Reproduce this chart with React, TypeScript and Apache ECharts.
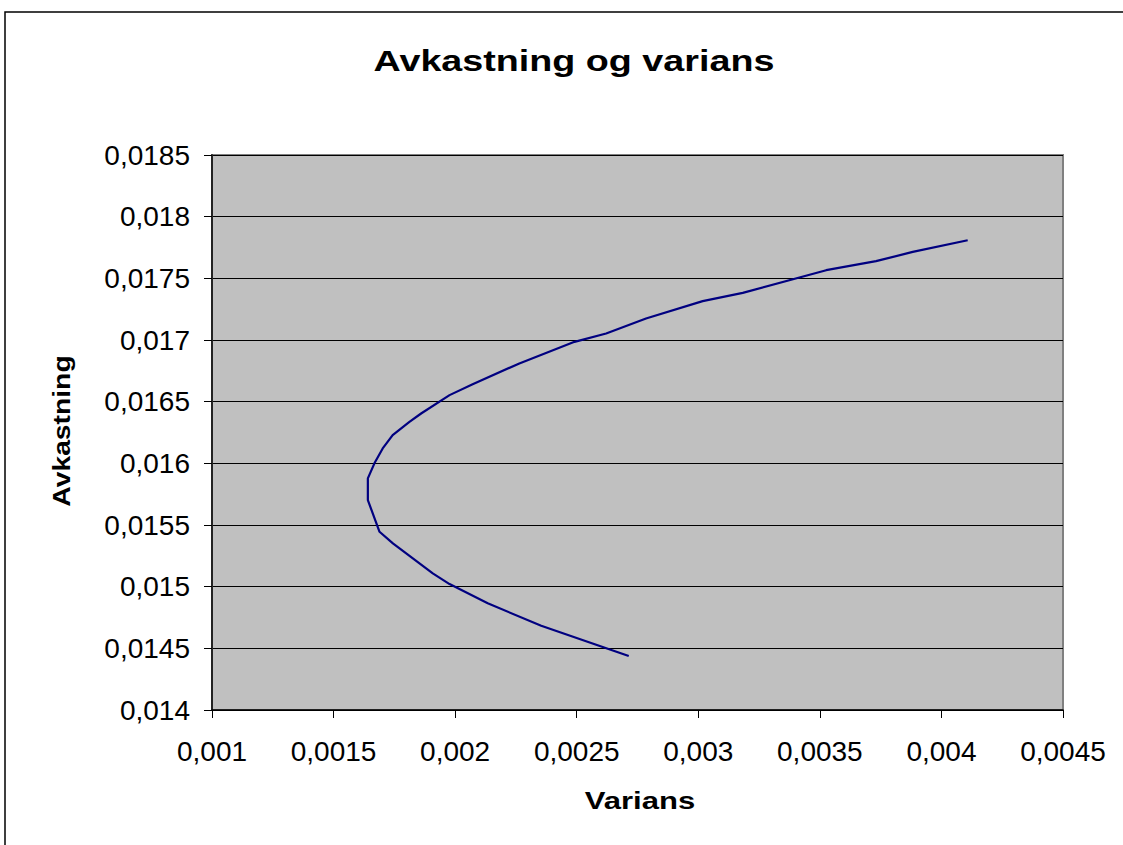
import React, { useEffect, useRef } from "react";
import * as echarts from "echarts";

const title = "Avkastning og varians";
const xName = "Varians";
const yName = "Avkastning";

const variance = [
  0.002714, 0.002354, 0.002134, 0.001977, 0.001908, 0.001744, 0.001689,
  0.001641, 0.001641, 0.001668, 0.001702, 0.001743, 0.001812, 0.00186,
  0.001977, 0.002072, 0.002264, 0.002491, 0.002621, 0.002785, 0.003018,
  0.003183, 0.003416, 0.003526, 0.003731, 0.003882, 0.004108,
];
const returns = [
  0.014438, 0.014683, 0.014865, 0.015021, 0.015108, 0.015351, 0.015445,
  0.015702, 0.015878, 0.016, 0.016121, 0.016229, 0.016336, 0.016404,
  0.016553, 0.016642, 0.01681, 0.016985, 0.017053, 0.017174, 0.017315,
  0.017382, 0.017507, 0.017566, 0.017639, 0.017714, 0.017809,
];

const xTicks = { min: 0.001, max: 0.0045, interval: 0.0005 };
const yTicks = { min: 0.014, max: 0.0185, interval: 0.0005 };

const fmt = (v: number) => String(+v.toFixed(6)).replace(".", ",");

export default function App() {
  const ref = useRef<HTMLDivElement>(null);
  useEffect(() => {
    if (!ref.current) return;
    const chart = echarts.init(ref.current, null, { renderer: "svg" });
    const font = "Liberation Sans, Arial, sans-serif";
    chart.setOption({
      animation: false,
      backgroundColor: "#ffffff",
      grid: {
        left: 212,
        right: 60,
        top: 155,
        bottom: 135,
        show: true,
        backgroundColor: "#C0C0C0",
        borderColor: "#808080",
        borderWidth: 2,
        containLabel: false,
      },
      xAxis: {
        type: "value",
        min: xTicks.min,
        max: xTicks.max,
        interval: xTicks.interval,
        axisLine: { show: true, lineStyle: { color: "#000", width: 1.5 } },
        axisTick: { show: true, inside: false, length: 8, lineStyle: { color: "#000", width: 1 } },
        axisLabel: {
          formatter: fmt,
          color: "#000",
          fontFamily: font,
          fontSize: 28,
          margin: 27,
        },
        splitLine: { show: false },
      },
      yAxis: {
        type: "value",
        min: yTicks.min,
        max: yTicks.max,
        interval: yTicks.interval,
        axisLine: { show: true, lineStyle: { color: "#222", width: 2 } },
        axisTick: { show: true, inside: false, length: 8, lineStyle: { color: "#000", width: 1 } },
        axisLabel: {
          formatter: fmt,
          color: "#000",
          fontFamily: font,
          fontSize: 28,
          margin: 22,
        },
        splitLine: { show: true, lineStyle: { color: "#000", width: 1 } },
      },
      graphic: [
        {
          type: "rect",
          shape: { x: 5, y: 12, width: 1200, height: 900 },
          style: { fill: "none", stroke: "#000", lineWidth: 1.5 },
          silent: true,
          z: 100,
        },
        {
          type: "text",
          x: 574,
          y: 61,
          scaleX: 1.3,
          style: {
            text: title,
            font: "bold 29px Liberation Sans, Arial, sans-serif",
            fill: "#000",
            textAlign: "center",
            textVerticalAlign: "middle",
          },
        },
        {
          type: "text",
          x: 640,
          y: 801,
          scaleX: 1.35,
          style: {
            text: xName,
            font: "bold 23px Liberation Sans, Arial, sans-serif",
            fill: "#000",
            textAlign: "center",
            textVerticalAlign: "middle",
          },
        },
        {
          type: "text",
          x: 62,
          y: 431,
          rotation: Math.PI / 2,
          scaleX: 1.23,
          style: {
            text: yName,
            font: "bold 23px Liberation Sans, Arial, sans-serif",
            fill: "#000",
            textAlign: "center",
            textVerticalAlign: "middle",
          },
        },
      ],
      series: [
        {
          type: "line",
          data: variance.map((v, i) => [v, returns[i]]),
          showSymbol: false,
          symbol: "none",
          smooth: false,
          lineStyle: { color: "#000080", width: 2.2 },
        },
      ],
    });
    return () => chart.dispose();
  }, []);
  return (
    <div
      ref={ref}
      style={{ position: "absolute", left: 0, top: 0, width: 1123, height: 845 }}
    />
  );
}
